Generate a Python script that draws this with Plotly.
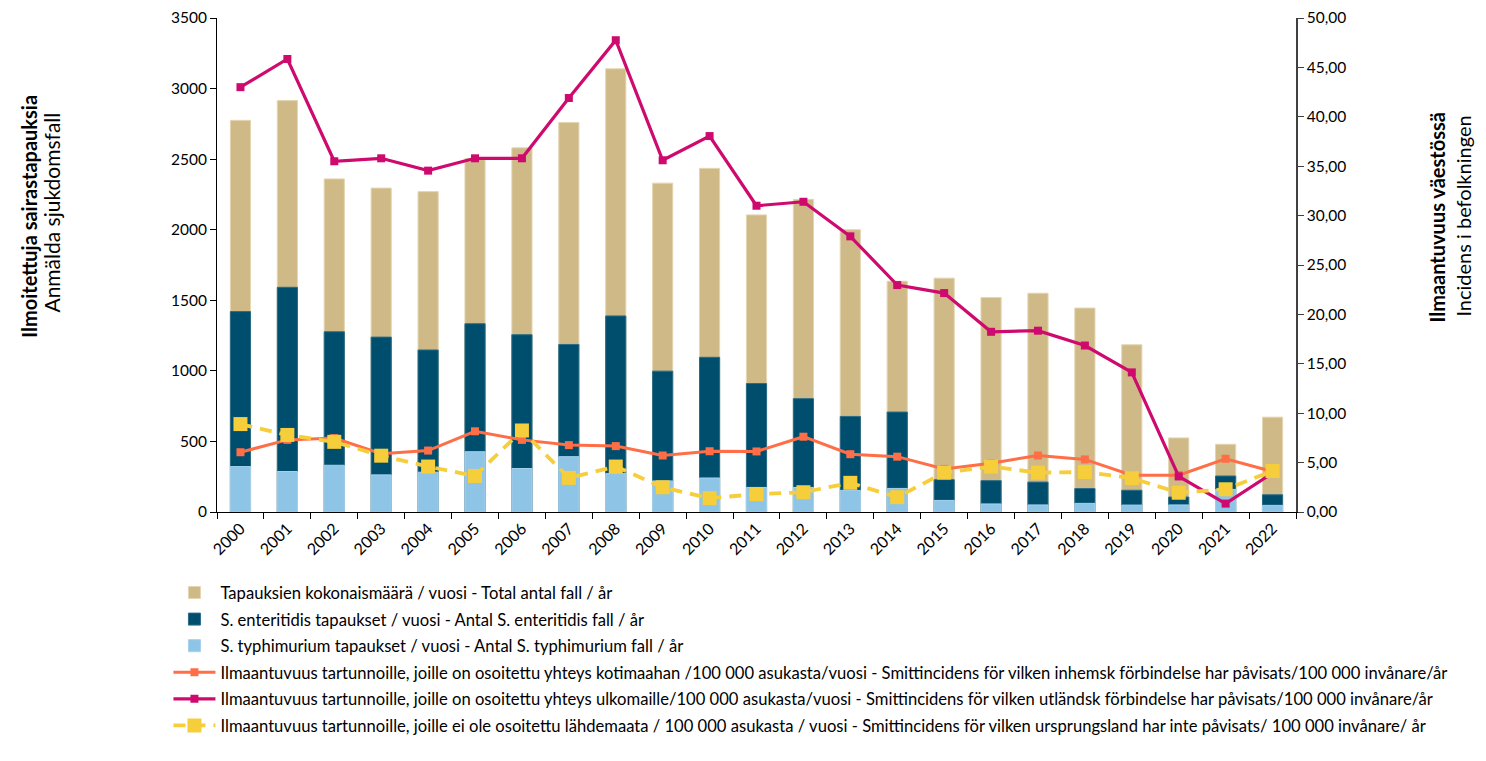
import plotly.graph_objects as go

years = [str(y) for y in range(2000, 2023)]

total_cases = [2775, 2915, 2360, 2295, 2270, 2505, 2580, 2760, 3140, 2330, 2435, 2105,
               2215, 2000, 1635, 1657, 1520, 1550, 1445, 1185, 525, 480, 672]
enteritidis = [1420, 1592, 1277, 1239, 1148, 1334, 1256, 1187, 1389, 998, 1096, 910,
               803, 677, 708, 229, 222, 212, 166, 154, 106, 255, 122]
typhimurium = [322, 287, 331, 263, 282, 427, 308, 392, 272, 220, 241, 174,
               174, 153, 167, 82, 57, 50, 61, 49, 50, 160, 47]

inc_domestic = [6.05, 7.3, 7.48, 5.9, 6.22, 8.17, 7.3, 6.77, 6.67, 5.72, 6.15, 6.13,
                7.62, 5.85, 5.6, 4.36, 4.94, 5.72, 5.32, 3.73, 3.73, 5.39, 4.1]
inc_abroad = [43.0, 45.85, 35.5, 35.8, 34.55, 35.8, 35.8, 41.9, 47.75, 35.6, 38.05, 31.0,
              31.4, 27.9, 22.97, 22.16, 18.24, 18.35, 16.85, 14.13, 3.6, 0.85, 3.95]
inc_unknown = [8.9, 7.8, 7.1, 5.7, 4.6, 3.65, 8.25, 3.45, 4.6, 2.5, 1.4, 1.8,
               2.0, 2.95, 1.5, 3.98, 4.6, 3.98, 4.04, 3.43, 1.95, 2.3, 4.15]

left_ticks = [0, 500, 1000, 1500, 2000, 2500, 3000, 3500]
right_ticks = [0, 5, 10, 15, 20, 25, 30, 35, 40, 45, 50]

names = [
    "Tapauksien kokonaismäärä / vuosi - Total antal fall / år",
    "S. enteritidis tapaukset / vuosi - Antal S. enteritidis fall / år",
    "S. typhimurium tapaukset / vuosi - Antal S. typhimurium fall / år",
    "Ilmaantuvuus tartunnoille, joille on osoitettu yhteys kotimaahan /100 000 asukasta/vuosi - Smittincidens för vilken inhemsk förbindelse har påvisats/100 000 invånare/år",
    "Ilmaantuvuus tartunnoille, joille on osoitettu yhteys ulkomaille/100 000 asukasta/vuosi - Smittincidens för vilken utländsk förbindelse har påvisats/100 000 invånare/år",
    "Ilmaantuvuus tartunnoille, joille ei ole osoitettu lähdemaata / 100 000 asukasta / vuosi - Smittincidens för vilken ursprungsland har inte påvisats/ 100 000 invånare/ år",
]

FONT = "Lato"
fig = go.Figure()

bar_specs = [
    (total_cases, "#CFB987", "#E4D6B2"),
    (enteritidis, "#004E6D", "#2B6C87"),
    (typhimurium, "#8EC4E6", "#A8D1EB"),
]
for i, (vals, col, lc) in enumerate(bar_specs):
    fig.add_trace(go.Bar(
        x=years, y=vals, name=names[i], width=0.43,
        marker=dict(color=col, line=dict(color=lc, width=1)),
        legendgroup=f"g{i}", yaxis="y",
    ))

line_specs = [
    (inc_domestic, "#FF6E47", "solid", 8, 3),
    (inc_abroad, "#CF0A6E", "solid", 8, 3.2),
    (inc_unknown, "#F6CE3C", "12px,8px", 14, 3.8),
]
for j, (vals, col, dash, ms, lw) in enumerate(line_specs):
    fig.add_trace(go.Scatter(
        x=years, y=vals, name=names[3 + j], mode="lines+markers",
        line=dict(color=col, width=lw, dash=dash),
        marker=dict(symbol="square", size=ms, color=col),
        legendgroup=f"g{3+j}", yaxis="y2",
    ))

fig.update_layout(
    width=1470, height=745,
    margin=dict(l=209, r=182, t=10, b=241),
    paper_bgcolor="white", plot_bgcolor="white",
    barmode="overlay",
    separators=",.",
    font=dict(family=FONT, size=16, color="#000000"),
    xaxis=dict(
        type="category", range=[-0.5, 22.5], tickson="boundaries", ticks="outside", ticklen=6,
        tickcolor="#000", showline=True, linecolor="#000", linewidth=1,
        tickangle=-45, showgrid=False, tickfont=dict(size=16),
    ),
    yaxis=dict(
        range=[0, 3500], tickmode="array", tickvals=left_ticks,
        ticktext=[str(v) for v in left_ticks], ticks="outside", ticklen=6,
        tickcolor="#000", showline=True, linecolor="#000", linewidth=1,
        showgrid=False, zeroline=False, tickfont=dict(size=15.5),
        ticklabeloverflow="allow", automargin=False,
    ),
    yaxis2=dict(
        range=[0, 50], tickmode="array", tickvals=right_ticks,
        ticktext=[f"{v:.2f}".replace(".", ",") for v in right_ticks],
        overlaying="y", side="right",
        ticks="outside", ticklen=6, tickcolor="#404040", showline=True,
        linecolor="#404040", linewidth=1.5, showgrid=False, zeroline=False,
        tickfont=dict(size=15.5), ticklabeloverflow="allow", automargin=False,
    ),
    legend=dict(
        x=-0.045, y=-0.128,
        xanchor="left", yanchor="top", traceorder="grouped",
        tracegroupgap=2, font=dict(size=16.6), bgcolor="rgba(0,0,0,0)",
        itemwidth=42,
    ),
    showlegend=True,
    annotations=[
        dict(xref="paper", yref="paper", x=-0.175, y=0.598, xanchor="center", yanchor="middle",
             text="<b>Ilmoitettuja sairastapauksia</b>",
             textangle=-90, showarrow=False, font=dict(size=20)),
        dict(xref="paper", yref="paper", x=-0.153, y=0.606, xanchor="center", yanchor="middle",
             text="Anmälda sjukdomsfall",
             textangle=-90, showarrow=False, font=dict(size=21)),
        dict(xref="paper", yref="paper", x=1.1307, y=0.596, xanchor="center", yanchor="middle",
             text="<b>Ilmaantuvuus väestössä</b>",
             textangle=-90, showarrow=False, font=dict(size=20)),
        dict(xref="paper", yref="paper", x=1.1548, y=0.598, xanchor="center", yanchor="middle",
             text="Incidens i befolkningen",
             textangle=-90, showarrow=False, font=dict(size=20)),
    ],
)

fig.write_html("out.html", config={"displayModeBar": False})
